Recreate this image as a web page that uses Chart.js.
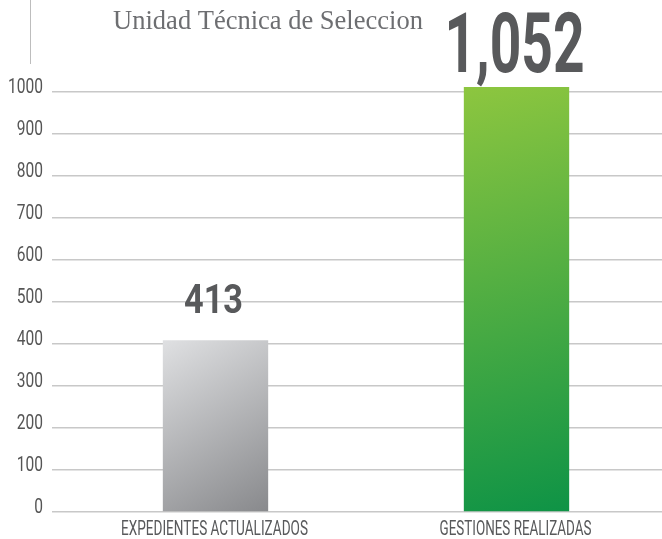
<!DOCTYPE html>
<html>
<head>
<meta charset="utf-8">
<script src="https://cdn.jsdelivr.net/npm/chart.js@4.4.1/dist/chart.umd.min.js"></script>
<style>
  html, body { margin: 0; padding: 0; background: #ffffff; overflow: hidden; }
  canvas { display: block; }
</style>
</head>
<body>
<canvas id="c" width="667" height="539"></canvas>
<script>
// ---- data ----
const categories = ["EXPEDIENTES ACTUALIZADOS", "GESTIONES REALIZADAS"];
const barValues = [409, 1012];              // bar heights as drawn
const valueLabels = ["413", "1,052"];       // printed figures above bars
const yTicks = [0, 100, 200, 300, 400, 500, 600, 700, 800, 900, 1000];
const titleText = "Unidad Técnica de Seleccion";

const textColor = "#58595b";
const condFont = "Roboto, 'DejaVu Sans Condensed', sans-serif";
const gradStops = [
  ["#dfe0e2", "#88898c"],
  ["#8dc63f", "#0e9346"]
];

function barGradient(ctx) {
  const chart = ctx.chart;
  if (!chart.chartArea || ctx.dataIndex === undefined) return gradStops[0][1];
  const i = ctx.dataIndex;
  const xs = chart.scales.x, ys = chart.scales.y;
  const cx = xs.getPixelForValue(i);
  const w = 105;
  const top = ys.getPixelForValue(barValues[i]);
  const bot = ys.getPixelForValue(0);
  const g = chart.ctx.createLinearGradient(cx - w / 2, top, cx + w / 2, bot);
  g.addColorStop(0, gradStops[i][0]);
  g.addColorStop(1, gradStops[i][1]);
  return g;
}

function squeezed(c, text, x, y, font, sx, align) {
  c.save();
  c.font = font;
  c.translate(x, y);
  c.scale(sx, 1);
  c.textAlign = align;
  c.textBaseline = "alphabetic";
  c.fillText(text, 0, 0);
  c.restore();
}

const decor = {
  id: "decor",
  afterDraw(chart) {
    const c = chart.ctx;
    const xs = chart.scales.x, ys = chart.scales.y;
    c.save();
    // thin vertical rule top-left
    c.strokeStyle = "#bdbdbd";
    c.lineWidth = 1;
    c.beginPath();
    c.moveTo(30.5, 0);
    c.lineTo(30.5, 64);
    c.stroke();

    // title
    c.fillStyle = "#6d6e71";
    c.font = "26.5px 'Liberation Serif', 'DejaVu Serif', serif";
    c.textAlign = "center";
    c.textBaseline = "alphabetic";
    c.fillText(titleText, 268, 29);

    // y tick labels (condensed), positioned by the y scale
    c.fillStyle = "#555555";
    const yFont = "21px " + condFont;
    yTicks.forEach(v => {
      const py = ys.getPixelForValue(v);
      squeezed(c, String(v), 43, py + 0.5, yFont, 0.74, "right");
    });

    // value labels (condensed bold)
    c.fillStyle = textColor;
    const lab = [
      { size: 40, width: 59, gap: 27 },
      { size: 83, width: 140, gap: 15 }
    ];
    valueLabels.forEach((t, i) => {
      const cx = xs.getPixelForValue(i);
      const top = ys.getPixelForValue(barValues[i]);
      const f = "bold " + lab[i].size + "px " + condFont;
      c.font = f;
      const sx = lab[i].width / c.measureText(t).width;
      squeezed(c, t, cx - 2, top - lab[i].gap, f, sx, "center");
    });

    // category labels under axis
    const catW = [187, 152];
    categories.forEach((t, i) => {
      const cx = xs.getPixelForValue(i);
      const f = "21px " + condFont;
      c.font = f;
      const sx = catW[i] / c.measureText(t).width;
      squeezed(c, t, cx - 1, 535, f, sx, "center");
    });
    c.restore();
  }
};

new Chart(document.getElementById("c"), {
  type: "bar",
  data: {
    labels: categories,
    datasets: [{
      data: barValues,
      backgroundColor: barGradient,
      borderWidth: 0,
      categoryPercentage: 1,
      barPercentage: 0.35,
      clip: false
    }]
  },
  options: {
    responsive: false,
    animation: false,
    devicePixelRatio: 1,
    layout: { padding: { top: 92, bottom: 27, left: 0, right: 0 } },
    plugins: { legend: { display: false }, tooltip: { enabled: false }, title: { display: false } },
    scales: {
      x: { display: false },
      y: {
        min: 0, max: 1000,
        afterBuildTicks(s) { s.ticks = yTicks.map(v => ({ value: v })); },
        afterFit(s) { s.width = 65; },
        grid: { color: "#c8c8c8", lineWidth: 1.5, tickLength: 13, drawTicks: true },
        border: { display: false },
        ticks: { display: false }
      }
    }
  },
  plugins: [decor]
});
</script>
</body>
</html>
